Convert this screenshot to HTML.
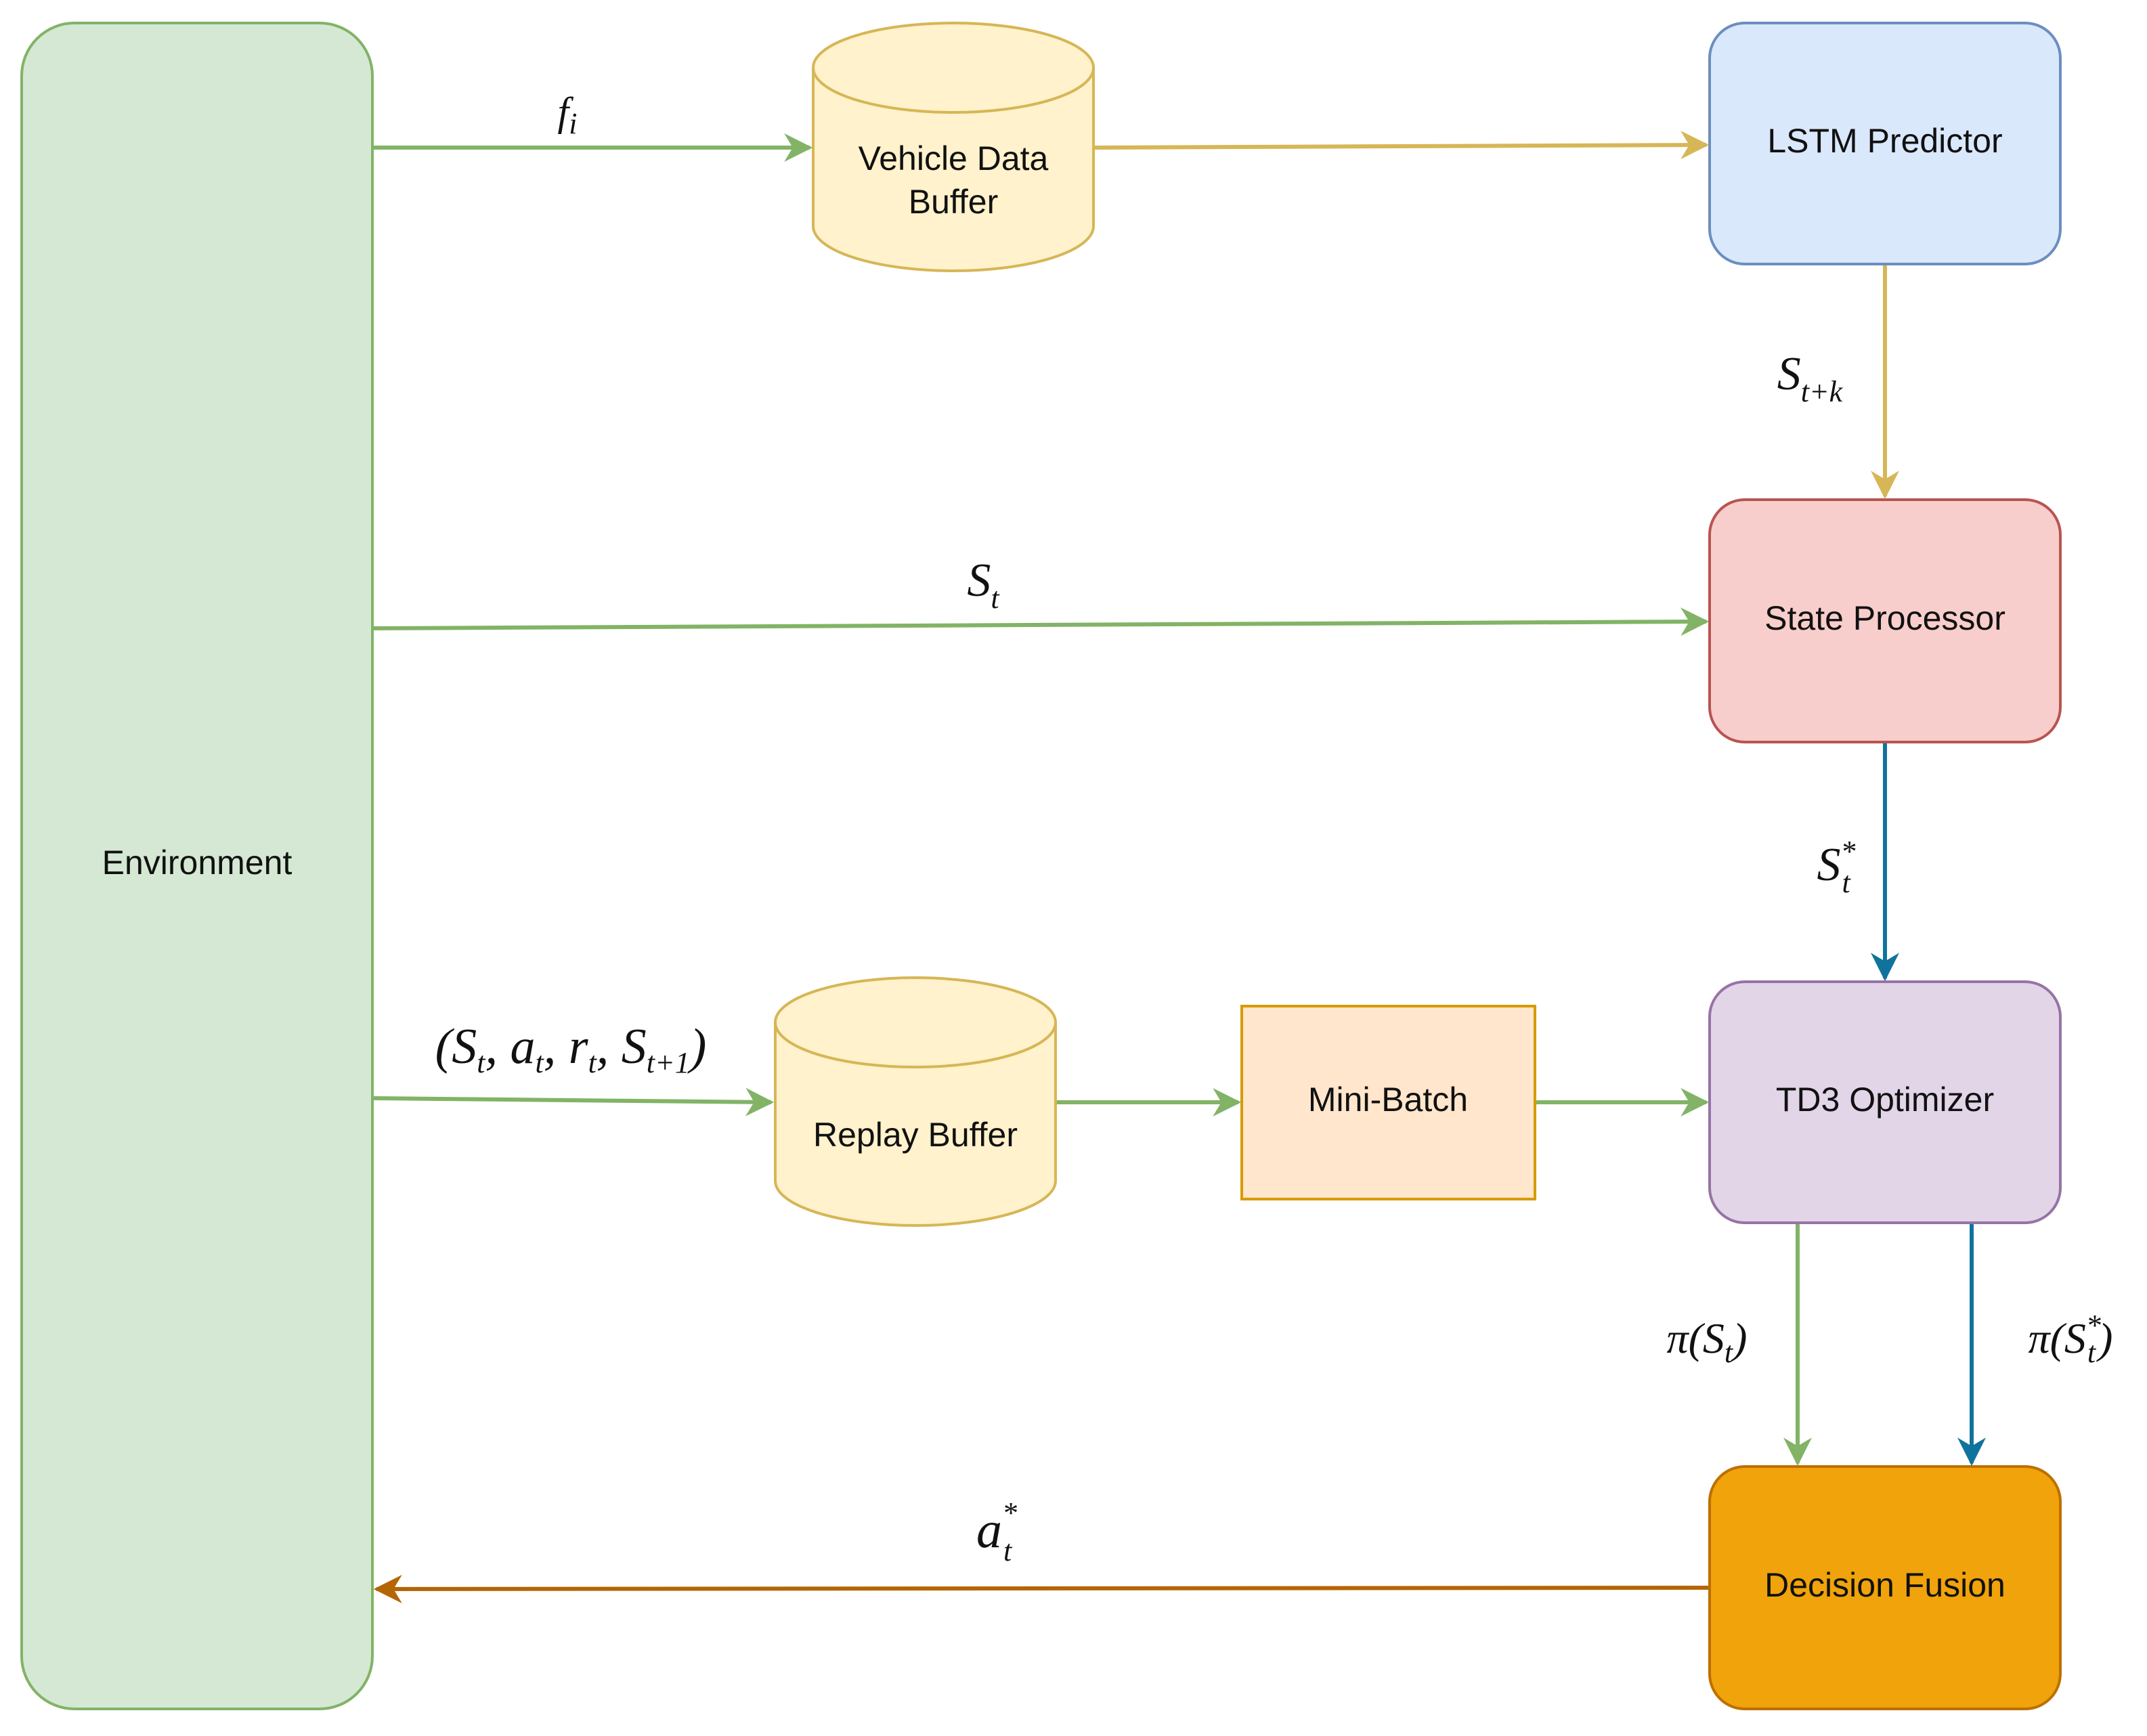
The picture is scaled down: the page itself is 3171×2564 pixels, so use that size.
<!DOCTYPE html>
<html><head><meta charset="utf-8"><style>
html,body{margin:0;padding:0;background:#fff;}
svg{display:block;}
.t{font-family:"Liberation Sans",sans-serif;font-size:50px;fill:#111;text-anchor:middle;dominant-baseline:middle;}
.m{font-family:"Liberation Serif",serif;font-style:italic;font-size:70px;fill:#111;text-anchor:middle;}
.s{font-size:44px;}
</style></head><body>
<svg width="3171" height="2564" viewBox="0 0 3171 2564" xmlns="http://www.w3.org/2000/svg">
<defs>
<marker id="ag" viewBox="0 0 10 10" refX="9" refY="5" markerWidth="7" markerHeight="7" orient="auto" markerUnits="strokeWidth"><path d="M0,0 L10,5 L0,10 L3,5 z" fill="#82b366"/></marker>
<marker id="ay" viewBox="0 0 10 10" refX="9" refY="5" markerWidth="7" markerHeight="7" orient="auto" markerUnits="strokeWidth"><path d="M0,0 L10,5 L0,10 L3,5 z" fill="#d6b656"/></marker>
<marker id="ab" viewBox="0 0 10 10" refX="9" refY="5" markerWidth="7" markerHeight="7" orient="auto" markerUnits="strokeWidth"><path d="M0,0 L10,5 L0,10 L3,5 z" fill="#10739e"/></marker>
<marker id="ao" viewBox="0 0 10 10" refX="9" refY="5" markerWidth="7" markerHeight="7" orient="auto" markerUnits="strokeWidth"><path d="M0,0 L10,5 L0,10 L3,5 z" fill="#b46504"/></marker>
</defs>
<rect x="32" y="34" width="518" height="2490" rx="78" fill="#d5e8d4" stroke="#82b366" stroke-width="4"/>
<text class="t" x="291" y="1278">Environment</text>
<path d="M1201,100 L1201,334 A207,66 0 0 0 1615,334 L1615,100" fill="#fff2cc" stroke="#d6b656" stroke-width="4"/>
<ellipse cx="1408" cy="100" rx="207" ry="66" fill="#fff2cc" stroke="#d6b656" stroke-width="4"/>
<text class="t" x="1408" y="238">Vehicle Data</text>
<text class="t" x="1408" y="302">Buffer</text>
<rect x="2525" y="34" width="518" height="356" rx="52" fill="#dae8fc" stroke="#6c8ebf" stroke-width="4"/>
<text class="t" x="2784" y="212">LSTM Predictor</text>
<rect x="2525" y="738" width="518" height="358" rx="52" fill="#f8cecc" stroke="#b85450" stroke-width="4"/>
<text class="t" x="2784" y="917">State Processor</text>
<rect x="2525" y="1450" width="518" height="356" rx="52" fill="#e1d5e7" stroke="#9673a6" stroke-width="4"/>
<text class="t" x="2784" y="1628">TD3 Optimizer</text>
<rect x="2525" y="2166" width="518" height="358" rx="52" fill="#f0a30a" stroke="#bd7000" stroke-width="4"/>
<text class="t" x="2784" y="2345">Decision Fusion</text>
<path d="M1145,1510 L1145,1744 A207,66 0 0 0 1559,1744 L1559,1510" fill="#fff2cc" stroke="#d6b656" stroke-width="4"/>
<ellipse cx="1352" cy="1510" rx="207" ry="66" fill="#fff2cc" stroke="#d6b656" stroke-width="4"/>
<text class="t" x="1352" y="1680">Replay Buffer</text>
<rect x="1834" y="1486" width="433" height="285" fill="#ffe6cc" stroke="#d79b00" stroke-width="4"/>
<text class="t" x="2050" y="1628">Mini-Batch</text>
<g fill="none" stroke-width="6">
<line x1="552" y1="218" x2="1196" y2="218" stroke="#82b366" marker-end="url(#ag)"/>
<line x1="1617" y1="218" x2="2520" y2="214" stroke="#d6b656" marker-end="url(#ay)"/>
<line x1="2784" y1="392" x2="2784" y2="733" stroke="#d6b656" marker-end="url(#ay)"/>
<line x1="552" y1="928" x2="2520" y2="918" stroke="#82b366" marker-end="url(#ag)"/>
<line x1="2784" y1="1098" x2="2784" y2="1445" stroke="#10739e" marker-end="url(#ab)"/>
<line x1="552" y1="1622" x2="1139" y2="1628" stroke="#82b366" marker-end="url(#ag)"/>
<line x1="1561" y1="1628" x2="1829" y2="1628" stroke="#82b366" marker-end="url(#ag)"/>
<line x1="2269" y1="1628" x2="2520" y2="1628" stroke="#82b366" marker-end="url(#ag)"/>
<line x1="2655" y1="1808" x2="2655" y2="2161" stroke="#82b366" marker-end="url(#ag)"/>
<line x1="2912" y1="1808" x2="2912" y2="2161" stroke="#10739e" marker-end="url(#ab)"/>
<line x1="2523" y1="2345" x2="556" y2="2347" stroke="#b46504" marker-end="url(#ao)"/>
</g>
<text class="m" x="838" y="185" style="font-size:60px">f<tspan class="s" dy="12">i</tspan></text>
<text class="m" x="2673" y="575">S<tspan class="s" dy="18">t+k</tspan></text>
<text class="m" x="1452" y="880">S<tspan class="s" dy="18">t</tspan></text>
<text class="m" x="2712" y="1300">S<tspan class="s" dy="-28">*</tspan><tspan class="s" dx="-20" dy="46">t</tspan></text>
<text class="m" x="843" y="1570" style="font-size:74px">(S<tspan class="s" dy="14">t</tspan><tspan dy="-14">, a</tspan><tspan class="s" dy="14">t</tspan><tspan dy="-14">, r</tspan><tspan class="s" dy="14">t</tspan><tspan dy="-14">, S</tspan><tspan class="s" dy="14">t+1</tspan><tspan dy="-14">)</tspan></text>
<text class="m" x="2521" y="1998" style="font-size:64px">π(S<tspan class="s" dy="14">t</tspan><tspan dy="-14">)</tspan></text>
<text class="m" x="3058" y="1998" style="font-size:64px">π(S<tspan class="s" dy="-26">*</tspan><tspan class="s" dx="-20" dy="40">t</tspan><tspan dx="4" dy="-14">)</tspan></text>
<text class="m" x="1472" y="2285" style="font-size:76px">a<tspan class="s" dy="-36">*</tspan><tspan class="s" dx="-20" dy="56">t</tspan></text>
</svg>
</body></html>
